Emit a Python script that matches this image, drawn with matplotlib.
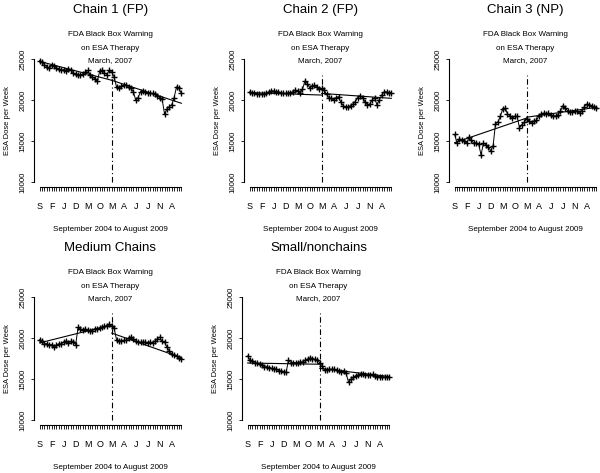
import numpy as np
import matplotlib
matplotlib.use('Agg')
import matplotlib.pyplot as plt

plt.rcParams['font.family'] = ['Liberation Sans', 'DejaVu Sans']

# monthly ESA dose per week, September 2004 .. August 2009
months = np.arange(60)
warning_month = 30  # March 2007
label_months = np.arange(0, 60, 5)
month_letters = ['S', 'F', 'J', 'D', 'M', 'O', 'M', 'A', 'J', 'J', 'N', 'A']

titles = ['Chain 1 (FP)', 'Chain 2 (FP)', 'Chain 3 (NP)', 'Medium Chains', 'Small/nonchains']

chain1 = [24800, 24600, 24300, 24000, 23900, 24200, 24100, 23900, 23800, 23600,
          23700, 23500, 23800, 23600, 23300, 23200, 23100, 23000, 23200, 23400,
          23600, 23100, 22800, 22600, 22300, 23500, 23600, 23300, 23100, 23600,
          23400, 22800, 21600, 21400, 21700, 21800, 21800, 21600, 21400, 21000,
          20000, 20300, 21000, 21100, 21000, 20900, 20800, 20800, 20700, 20500,
          20300, 20100, 18300, 18900, 19200, 19400, 20300, 21600, 21400, 20800]
chain2 = [21000, 20900, 20800, 20700, 20700, 20700, 20700, 20800, 21000, 21100,
          21100, 21000, 21000, 20900, 20800, 20800, 20900, 20900, 21000, 21200,
          21100, 20900, 21300, 22300, 22000, 21500, 21700, 21800, 21600, 21300,
          21400, 21200, 20700, 20300, 20200, 20000, 20300, 20400, 19700, 19300,
          19100, 19200, 19300, 19500, 19800, 20300, 20500, 20300, 19800, 19400,
          19500, 20000, 20300, 19400, 20000, 20600, 21000, 21000, 20900, 20900]
chain3 = [15800, 14700, 15300, 15100, 15000, 14700, 15500, 15100, 14700, 14800,
          14600, 13300, 14800, 14500, 14300, 13800, 14400, 17100, 17300, 18000,
          18900, 19000, 18300, 18100, 17800, 18000, 18000, 16600, 17000, 17300,
          17700, 17400, 17200, 17400, 17500, 18000, 18300, 18400, 18300, 18400,
          18200, 18100, 18000, 18200, 18600, 19300, 19000, 18700, 18500, 18500,
          18600, 18600, 18400, 18700, 19200, 19500, 19400, 19300, 19100, 19000]
medium = [19800, 19600, 19300, 19300, 19100, 19200, 18900, 19100, 19300, 19300,
          19500, 19600, 19400, 19600, 19500, 19200, 21300, 21100, 21000, 21100,
          21000, 20900, 20900, 21100, 21100, 21200, 21300, 21400, 21500, 21700,
          21400, 21200, 19800, 19600, 19600, 19700, 19700, 20000, 20100, 19900,
          19600, 19500, 19500, 19500, 19500, 19400, 19500, 19400, 19600, 19900,
          20100, 19600, 19500, 18900, 18400, 18100, 17900, 17800, 17600, 17400]
small = [17800, 17300, 17200, 16900, 16900, 16800, 16700, 16500, 16500, 16400,
         16300, 16200, 16200, 16000, 16000, 15900, 15800, 17300, 17000, 17000,
         17000, 17000, 17100, 17100, 17300, 17400, 17600, 17500, 17400, 17300,
         17000, 16600, 16100, 16100, 16200, 16200, 16200, 16100, 16000, 15900,
         16000, 15700, 14600, 15000, 15200, 15400, 15500, 15600, 15600, 15500,
         15500, 15500, 15600, 15400, 15300, 15300, 15300, 15200, 15300, 15300]
series = [chain1, chain2, chain3, medium, small]

# segmented trend: pre start, pre end, post start, post end
fit1 = [24700, 22400, 22400, 19600]
fit2 = [20900, 20600, 20800, 20200]
fit3 = [14800, 17800, 17900, 19100]
fit4 = [19400, 21600, 20600, 17600]
fit5 = [16950, 16800, 16300, 15300]
fits = [fit1, fit2, fit3, fit4, fit5]

W, H = 600, 473
fig = plt.figure(figsize=(W / 100, H / 100), dpi=100)

lefts = [34, 244, 449, 34, 242]
tops = [54, 54, 54, 292, 292]
pw, ph = 153, 133

for i in range(5):
    ax = fig.add_axes([lefts[i] / W, 1 - (tops[i] + ph) / H, pw / W, ph / H])
    ax.set_xlim(-2.36, 61.36)
    ax.set_ylim(9400, 25600)
    for s in ['top', 'right']:
        ax.spines[s].set_visible(False)
    ax.spines['left'].set_bounds(10000, 25000)
    ax.spines['bottom'].set_bounds(0, 59)
    ax.spines['left'].set_linewidth(0.8)
    ax.spines['bottom'].set_linewidth(0.8)

    ax.plot(months, series[i], color='black', lw=0.7, marker='+', ms=5, mew=1.0)
    f = fits[i]
    ax.plot([0, warning_month], [f[0], f[1]], color='black', lw=0.8)
    ax.plot([warning_month, 59], [f[2], f[3]], color='black', lw=0.8)
    ax.plot([warning_month, warning_month], [10000, 23000], color='black', lw=0.8,
            linestyle=(0, (5, 2.5, 1, 2.5)))

    ax.set_yticks([10000, 15000, 20000, 25000])
    ax.set_yticklabels(['10000', '15000', '20000', '25000'], rotation=90, va='center')
    ax.tick_params(axis='y', length=2.5, width=0.6, pad=3, labelsize=5.6)
    ax.set_xticks(months)
    xl = [''] * 60
    for m, lab in zip(label_months, month_letters):
        xl[m] = lab
    ax.set_xticklabels(xl)
    ax.tick_params(axis='x', length=3, width=0.6, pad=7.5, labelsize=6.5)

    ax.set_ylabel('ESA Dose per Week', fontsize=5.4)
    ax.yaxis.set_label_coords(-23 / pw, 0.5)

    ax.annotate(titles[i], xy=(0.5, 1), xycoords='axes fraction',
                xytext=(0, 44), textcoords='offset pixels',
                ha='center', va='center', fontsize=9.5)
    for k, line in enumerate(['FDA Black Box Warning', 'on ESA Therapy', 'March, 2007']):
        ax.annotate(line, xy=(0.5, 1), xycoords='axes fraction',
                    xytext=(0, 19 - 13 * k), textcoords='offset pixels',
                    ha='center', va='center', fontsize=5.8)
    ax.annotate('September 2004 to August 2009', xy=(0.5, 0), xycoords='axes fraction',
                xytext=(0, -42), textcoords='offset pixels',
                ha='center', va='center', fontsize=5.8)

fig.savefig('out.png', dpi=100)
